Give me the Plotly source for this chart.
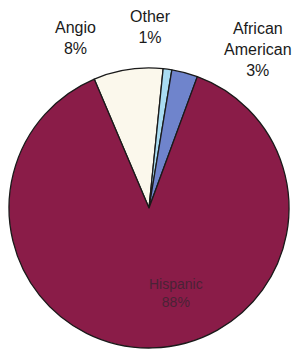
import plotly.graph_objects as go

groups = ["Anglo", "Other", "African American", "Hispanic"]
shares = [8, 1, 3, 88]
display_names = ["Angio", "Other", "African<br>American", "Hispanic"]
colors = ["#fbf8ec", "#a9dcf2", "#6f84cc", "#8a1c48"]

W, H = 302, 351
cx, cy, r = 149, 208, 140

fig = go.Figure(go.Pie(
    labels=groups, values=shares, sort=False, direction="clockwise",
    rotation=-23, textinfo="none", hoverinfo="label+percent",
    marker=dict(colors=colors, line=dict(color="#1a1a1a", width=1.3)),
    domain=dict(x=[(cx - r) / W, (cx + r) / W], y=[1 - (cy + r) / H, 1 - (cy - r) / H]),
    showlegend=False,
))

label_pos = [(75, 38), (150, 27), (258, 49)]
for name, val, (x, y) in zip(display_names[:3], shares[:3], label_pos):
    fig.add_annotation(x=x / W, y=1 - y / H, xref="paper", yref="paper",
                       text=f"{name}<br>{val}%", showarrow=False,
                       font=dict(family="Liberation Sans, Arial", size=16, color="#1a1a1a"),
                       align="center", xanchor="center", yanchor="middle")

fig.add_annotation(x=176 / W, y=1 - 293 / H, xref="paper", yref="paper",
                   text=f"{display_names[3]}<br>{shares[3]}%", showarrow=False,
                   font=dict(family="Liberation Sans, Arial", size=14, color="#4a2236"),
                   align="center", xanchor="center", yanchor="middle")

fig.update_layout(width=W, height=H, margin=dict(l=0, r=0, t=0, b=0),
                  paper_bgcolor="white", plot_bgcolor="white")
fig.write_html("out.html", config={"displayModeBar": False},
               post_script="document.body.style.margin='0';")
